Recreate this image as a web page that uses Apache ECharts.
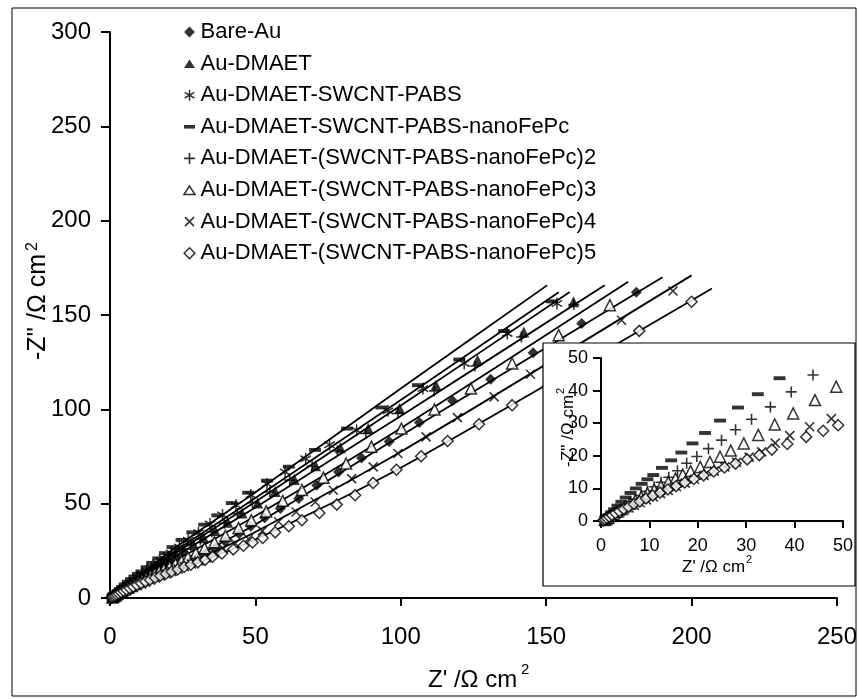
<!DOCTYPE html>
<html>
<head>
<meta charset="utf-8">
<script src="https://cdn.jsdelivr.net/npm/echarts@6/dist/echarts.min.js"></script>
<style>
  html, body { margin: 0; padding: 0; background: #fff; }
  #chart { width: 860px; height: 699px; }
</style>
</head>
<body>
<div id="chart"></div>
<script>
// Impedance spectra of the modified gold electrodes (Nyquist form)
const seriesNames = [
  'Bare-Au',
  'Au-DMAET',
  'Au-DMAET-SWCNT-PABS',
  'Au-DMAET-SWCNT-PABS-nanoFePc',
  'Au-DMAET-(SWCNT-PABS-nanoFePc)2',
  'Au-DMAET-(SWCNT-PABS-nanoFePc)3',
  'Au-DMAET-(SWCNT-PABS-nanoFePc)4',
  'Au-DMAET-(SWCNT-PABS-nanoFePc)5'
];

// Z' (x) and -Z'' (y) in Ohm cm2
const bareAuX = [0.7,1.0,1.4,1.9,2.5,3.2,4.0,4.9,5.9,7.0,8.2,9.5,10.9,12.4,14.0,15.7,17.5,19.4,21.4,23.5,25.7,28.0,30.5,33.2,36.2,39.6,44.4,48.4,53.2,58.6,64.9,71.1,78.6,86.5,96.0,106.4,117.8,130.9,145.5,162.2,181.0];
const bareAuY = [0.2,0.5,0.8,1.2,1.7,2.2,2.8,3.5,4.2,5.0,5.9,6.8,7.8,8.9,10.0,11.2,12.5,13.9,15.3,16.8,18.4,20.1,22.0,24.2,26.8,30.0,34.1,38.0,42.5,47.4,52.7,59.8,66.8,74.2,83.0,93.0,104.5,116.0,130.0,145.5,162.0];

const dmaetX = [0.8,1.1,1.5,2.0,2.6,3.3,4.1,5.0,6.0,7.1,8.3,9.6,11.0,12.5,14.2,16.0,18.0,20.3,22.8,25.6,28.7,32.2,36.1,40.5,45.4,50.8,56.8,63.4,70.7,79.2,88.8,99.6,112.1,126.4,142.3,159.4];
const dmaetY = [0.3,0.6,1.0,1.5,2.1,2.8,3.6,4.6,5.6,6.8,8.0,9.3,10.7,12.2,13.9,15.7,17.7,20.0,22.5,25.3,28.4,31.9,35.8,40.2,45.0,50.4,56.4,62.8,70.1,79.6,89.8,100.4,112.8,126.0,141.0,157.0];

const swcntX = [0.6,0.9,1.3,1.8,2.4,3.1,3.9,4.8,5.8,6.9,8.1,9.4,10.9,12.5,14.3,16.3,18.5,21.0,23.8,26.9,30.4,34.4,38.7,43.3,48.4,54.0,60.2,67.3,75.5,84.8,95.6,107.6,121.8,136.6,153.7];
const swcntY = [0.3,0.7,1.2,1.8,2.5,3.3,4.3,5.4,6.6,7.9,9.3,10.8,12.5,14.3,16.3,18.6,21.1,23.9,27.1,30.6,34.6,39.2,44.0,49.2,54.6,60.5,66.8,73.8,81.2,88.9,99.2,111.0,124.3,140.2,156.1];

const fePc1X = [0.9,1.2,1.6,2.1,2.7,3.4,4.2,5.1,6.1,7.2,8.4,9.6,10.8,12.6,14.5,16.6,18.9,21.5,24.6,28.3,32.4,36.9,41.9,47.5,54.0,61.5,70.5,81.5,93.3,105.9,120.1,135.5,152.0];
const fePc1Y = [0.5,1.1,1.8,2.7,3.6,4.7,5.9,7.2,8.6,10.0,11.4,12.8,14.1,16.3,18.6,21.0,23.8,27.0,30.8,34.8,38.9,43.8,50.3,55.8,62.2,69.6,78.5,89.8,101.0,112.8,126.4,141.5,157.2];

const fePc2X = [0.8,1.1,1.5,2.0,2.6,3.3,4.1,5.0,6.0,7.1,8.3,9.6,11.0,12.4,14.0,15.8,17.7,19.8,22.2,24.9,27.8,31.1,35.0,39.3,43.8,49.0,55.0,61.8,69.5,78.2,88.0,99.0,111.5,125.5,141.5,159.5];
const fePc2Y = [0.3,0.6,1.0,1.5,2.1,2.8,3.6,4.5,5.5,6.6,7.8,9.1,10.5,11.9,13.4,15.4,17.7,19.8,22.2,24.8,28.0,31.2,35.0,39.6,44.8,50.5,56.2,62.5,69.8,78.0,87.2,97.8,109.7,123.0,138.3,155.5];

const fePc3X = [0.8,1.1,1.5,2.0,2.6,3.3,4.1,5.0,6.0,7.1,8.3,9.6,11.0,12.4,13.9,15.4,16.9,18.5,20.5,22.5,24.6,26.8,29.5,32.5,35.9,39.7,44.2,48.6,53.7,59.4,66.0,73.4,81.2,89.9,100.2,111.6,124.1,138.3,154.3,171.9];
const fePc3Y = [0.3,0.6,1.0,1.5,2.1,2.8,3.6,4.5,5.4,6.4,7.4,8.5,9.6,10.7,11.9,13.0,14.2,15.3,16.6,18.1,19.7,21.6,23.8,26.4,29.6,33.0,37.1,41.2,45.9,51.5,57.3,63.8,71.3,80.2,89.8,99.9,111.0,124.3,139.3,155.2];

const fePc4X = [0.6,0.9,1.3,1.8,2.4,3.1,3.9,4.8,5.8,6.9,8.1,9.4,10.8,12.3,13.9,15.6,17.4,19.3,21.3,23.4,25.6,28.0,30.6,33.2,36.0,39.0,43.1,47.6,52.4,58.0,64.0,70.6,76.8,83.1,90.5,99.0,108.7,119.5,132.1,144.6,158.8,175.9,193.6];
const fePc4Y = [0.2,0.5,0.8,1.2,1.6,2.1,2.7,3.3,4.0,4.8,5.6,6.5,7.4,8.4,9.4,10.5,11.6,12.8,14.0,15.3,16.6,18.0,19.6,21.2,23.9,26.2,28.9,31.4,35.6,40.4,45.6,50.9,57.1,63.3,69.5,76.6,85.4,95.6,106.6,118.6,131.8,147.2,162.7];

const fePc5X = [0.5,0.8,1.2,1.7,2.3,3.0,3.8,4.7,5.7,6.8,8.0,9.3,10.7,12.2,13.8,15.5,17.3,19.2,21.2,23.3,25.5,27.8,30.2,32.7,35.3,38.5,42.4,45.9,49.0,52.5,56.8,61.5,66.0,72.0,78.0,84.3,90.5,98.5,107.0,116.1,126.9,138.3,150.5,164.5,182.0,200.0];
const fePc5Y = [0.2,0.5,0.9,1.3,1.8,2.4,3.0,3.7,4.4,5.2,6.0,6.9,7.8,8.7,9.7,10.7,11.8,12.9,14.0,15.2,16.4,17.6,18.9,20.2,21.9,23.6,25.8,27.7,29.4,31.8,34.8,38.0,41.2,45.1,49.5,54.5,61.0,68.0,75.1,83.2,92.1,102.2,112.0,125.5,141.6,157.0];

// Fitted curves drawn through each data set
const fitAX = [0,3,10,25,50,100,150.3];
const fitAY = [0,3.5,12,29.5,56,111,165.7];
const fitBX = [0,3,10,25,50,100,154.3];
const fitBY = [0,3.3,11.2,27.5,53,105,162];
const fitCX = [0,3,10,25,50,100,158.1];
const fitCY = [0,3.1,10.6,26.2,51,102,162.2];
const fitDX = [0,3,10,25,50,100,170.1];
const fitDY = [0,2.9,10,24.5,48,96.5,165.8];
const fitEX = [0,3,10,25,50,100,178.2];
const fitEY = [0,2.6,9,22,43.5,90,167.6];
const fitFX = [0,3,10,25,50,100,190];
const fitFY = [0,2.3,7.6,18.8,39,86,170];
const fitGX = [0,3,10,25,50,100,200];
const fitGY = [0,2.1,7.0,17,35,77.5,171];
const fitHX = [0,3,10,25,50,100,207];
const fitHY = [0,1.9,6.3,15.5,31,69,164];

const mainXTicks = { min: 0, max: 250, interval: 50 };
const mainYTicks = { min: 0, max: 300, interval: 50 };
const insetTicks = { min: 0, max: 50, interval: 10 };

const FONT = '"Liberation Sans", Arial, Helvetica, sans-serif';

const SYMBOLS = {
  diamond: 'diamond',
  triangle: 'triangle',
  smallTriangle: 'path://M0,0M12,12M6,2L11.5,10.5H0.5Z',
  star: 'path://M0,0M12,12M6,0.5V11.5M1.2,3.2L10.8,8.8M10.8,3.2L1.2,8.8',
  dash: 'path://M0,0M12,12M0.5,4.2H11.5V7.8H0.5Z',
  plus: 'path://M0,0M12,12M6,0.5V11.5M0.5,6H11.5',
  cross: 'path://M0,0M12,12M1.5,1.5L10.5,10.5M10.5,1.5L1.5,10.5',
  smallDiamond: 'path://M0,0M12,12M6,0.6L11.4,6L6,11.4L0.6,6Z'
};

// marker look of each data set: [symbol, size, fill, stroke width, legend icon]
const markerStyle = [
  [SYMBOLS.diamond, 11, '#000', 0, SYMBOLS.smallDiamond],
  [SYMBOLS.triangle, 11, '#000', 0, SYMBOLS.smallTriangle],
  [SYMBOLS.star, 13, 'none', 1.5, SYMBOLS.star],
  [SYMBOLS.dash, 13, '#000', 0, SYMBOLS.dash],
  [SYMBOLS.plus, 12, 'none', 1.6, SYMBOLS.plus],
  [SYMBOLS.triangle, 11, '#fff', 1.5, SYMBOLS.smallTriangle],
  [SYMBOLS.cross, 12, 'none', 1.6, SYMBOLS.cross],
  [SYMBOLS.diamond, 11, '#fff', 1.5, SYMBOLS.smallDiamond]
];

const dataX = [bareAuX, dmaetX, swcntX, fePc1X, fePc2X, fePc3X, fePc4X, fePc5X];
const dataY = [bareAuY, dmaetY, swcntY, fePc1Y, fePc2Y, fePc3Y, fePc4Y, fePc5Y];
const fitX = [fitAX, fitBX, fitCX, fitDX, fitEX, fitFX, fitGX, fitHX];
const fitY = [fitAY, fitBY, fitCY, fitDY, fitEY, fitFY, fitGY, fitHY];

function pairs(xs, ys) { return xs.map((x, i) => [x, ys[i]]); }

function markerItemStyle(i) {
  const m = markerStyle[i];
  return {
    color: m[2],
    borderColor: '#000',
    borderWidth: m[3]
  };
}

const series = [];
// fitted lines in the main plot
fitX.forEach((xs, i) => {
  series.push({
    type: 'line', name: 'fit' + i, xAxisIndex: 0, yAxisIndex: 0,
    data: pairs(xs, fitY[i]), showSymbol: false, smooth: 0.25,
    lineStyle: { color: '#000', width: 1.8 }, silent: true, z: 2
  });
});
// data points in the main plot
dataX.forEach((xs, i) => {
  series.push({
    type: 'scatter', name: seriesNames[i], xAxisIndex: 0, yAxisIndex: 0,
    data: pairs(xs, dataY[i]),
    symbol: markerStyle[i][0], symbolSize: markerStyle[i][1],
    itemStyle: markerItemStyle(i), z: 3
  });
});
// inset: the five nanoFePc electrodes close to the origin
for (let i = 3; i < 8; i++) {
  series.push({
    type: 'scatter', name: seriesNames[i], xAxisIndex: 1, yAxisIndex: 1,
    data: pairs(dataX[i], dataY[i]), clip: true,
    symbol: markerStyle[i][0], symbolSize: markerStyle[i][1],
    itemStyle: markerItemStyle(i), z: 13
  });
}

function valueAxis(grid, ticks, fontSize, margin, tickLen, z) {
  return {
    type: 'value', gridIndex: grid,
    min: ticks.min, max: ticks.max, interval: ticks.interval,
    axisLine: { show: true, onZero: false, lineStyle: { color: '#000', width: 2 } },
    axisTick: { show: true, inside: false, length: tickLen, lineStyle: { color: '#000', width: 2 } },
    axisLabel: { color: '#000', fontSize: fontSize, fontFamily: FONT, margin: margin },
    splitLine: { show: false },
    z: z
  };
}

function titleGroup(x, y, rot, text, fontSize, supSize, supDx, supDy) {
  return {
    type: 'group', x: x, y: y, rotation: rot, z: 14,
    children: [
      { type: 'text', x: 0, y: 0, z: 14,
        style: { text: text, font: fontSize + 'px ' + FONT, fill: '#000', textAlign: 'left', textVerticalAlign: 'middle' } },
      { type: 'text', x: supDx, y: supDy, z: 14,
        style: { text: '2', font: supSize + 'px ' + FONT, fill: '#000', textAlign: 'left', textVerticalAlign: 'middle' } }
    ]
  };
}

const chart = echarts.init(document.getElementById('chart'), null, { renderer: 'canvas' });
chart.setOption({
  animation: false,
  backgroundColor: '#fff',
  textStyle: { fontFamily: FONT },
  grid: [
    { left: 110, top: 32, width: 732, height: 566, containLabel: false },
    { left: 601, top: 358, width: 242, height: 163, containLabel: false }
  ],
  xAxis: [
    valueAxis(0, mainXTicks, 24, 27, 8, 1),
    valueAxis(1, insetTicks, 18, 16, 7, 12)
  ],
  yAxis: [
    valueAxis(0, mainYTicks, 24, 19, 9, 1),
    valueAxis(1, insetTicks, 18, 13, 8, 12)
  ],
  legend: {
    orient: 'vertical', left: 181, top: 21, padding: 0,
    itemWidth: 12, itemHeight: 12, itemGap: 9.6,
    textStyle: { fontSize: 22, fontFamily: FONT, color: '#000', lineHeight: 22 },
    selectedMode: false,
    data: seriesNames.map((n, i) => ({
      name: n, icon: markerStyle[i][4], itemStyle: markerItemStyle(i)
    }))
  },
  graphic: [
    { type: 'rect', z: 0, silent: true,
      shape: { x: 12, y: 8, width: 844, height: 688 },
      style: { fill: 'none', stroke: '#000', lineWidth: 1 } },
    { type: 'rect', z: 10, silent: true,
      shape: { x: 543, y: 343, width: 312, height: 243 },
      style: { fill: '#fff', stroke: '#000', lineWidth: 1.2 } },
    titleGroup(428, 680, 0, "Z' /\u03A9 cm", 24, 15, 93, -10),
    titleGroup(38, 360, Math.PI / 2, "-Z'' /\u03A9 cm", 25, 16, 109, -5),
    titleGroup(682, 567, 0, "Z' /\u03A9 cm", 17, 11, 64, -7),
    titleGroup(568, 467, Math.PI / 2, "-Z'' /\u03A9 cm", 17, 11, 73, -7)
  ],
  series: series
});
</script>
</body>
</html>
